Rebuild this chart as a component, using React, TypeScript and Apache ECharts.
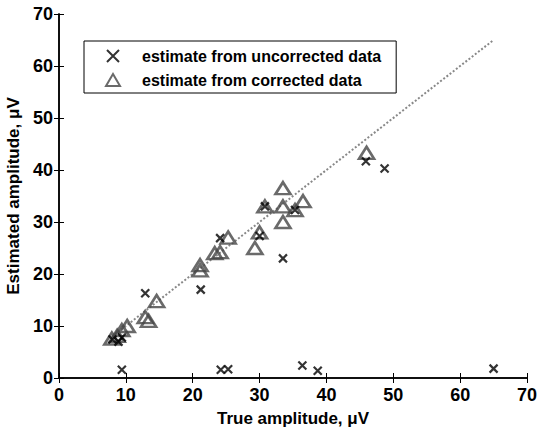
import React, { useEffect, useRef } from "react";
import * as echarts from "echarts";

const uncorrectedTrue = [8.0, 8.9, 9.4, 9.4, 12.9, 21.2, 24.1, 24.2, 25.3, 30.0, 30.8, 33.5, 35.3, 36.4, 38.7, 45.9, 48.7, 65.0];
const uncorrectedEst = [7.4, 7.0, 7.8, 1.6, 16.3, 17.0, 26.9, 1.6, 1.7, 27.3, 33.0, 23.0, 32.3, 2.4, 1.4, 41.7, 40.3, 1.8];

const correctedTrue = [7.9, 8.7, 9.4, 10.2, 12.9, 13.4, 14.6, 21.1, 21.1, 23.3, 24.1, 25.3, 29.3, 30.0, 30.8, 33.5, 33.5, 33.5, 35.3, 36.5, 46.0];
const correctedEst = [7.6, 8.1, 9.2, 10.0, 11.7, 11.0, 14.8, 21.7, 20.7, 24.0, 24.2, 27.0, 25.0, 28.0, 33.0, 36.5, 33.0, 30.0, 32.3, 34.0, 43.3];

const identityLine = [7.9, 65.0];

const xTicks = [0, 10, 20, 30, 40, 50, 60, 70];
const yTicks = [0, 10, 20, 30, 40, 50, 60, 70];

const seriesNames = ["estimate from uncorrected data", "estimate from corrected data"];
const FONT = "'Liberation Sans', Arial, Helvetica, sans-serif";

export default function App() {
  const ref = useRef<HTMLDivElement>(null);
  useEffect(() => {
    if (!ref.current) return;
    const chart = echarts.init(ref.current, null, { renderer: "svg" });
    const axisLine = { show: true, lineStyle: { color: "#000", width: 1.5 } };
    const tick = { show: true, inside: true, length: 5, lineStyle: { color: "#000", width: 1 } };
    const label = { fontFamily: FONT, fontWeight: "bold" as const, fontSize: 18, color: "#000" };
    const nameStyle = { fontFamily: FONT, fontWeight: "bold" as const, fontSize: 17, color: "#000" };
    const base = { min: xTicks[0], max: xTicks[xTicks.length - 1], interval: 10, splitLine: { show: false } };
    chart.setOption({
      animation: false,
      backgroundColor: "#fff",
      grid: { left: 59, top: 14, right: 11, bottom: 51, containLabel: false, outerBoundsMode: "none" },
      xAxis: [
        {
          type: "value", ...base, position: "bottom",
          axisLine, axisTick: tick, axisLabel: { ...label, margin: 8 },
          name: "True amplitude, μV", nameLocation: "middle", nameGap: 32,
          nameTextStyle: nameStyle,
        },
        { type: "value", ...base, position: "top", axisLine, axisTick: tick, axisLabel: { show: false } },
      ],
      yAxis: [
        {
          type: "value", min: yTicks[0], max: yTicks[yTicks.length - 1], interval: 10, splitLine: { show: false },
          position: "left", axisLine, axisTick: tick, axisLabel: { ...label, margin: 6 },
          name: "Estimated amplitude, μV", nameLocation: "middle", nameGap: 33,
          nameTextStyle: nameStyle,
        },
        {
          type: "value", min: yTicks[0], max: yTicks[yTicks.length - 1], interval: 10, splitLine: { show: false },
          position: "right", axisLine, axisTick: tick, axisLabel: { show: false },
        },
      ],
      legend: {
        left: 84, top: 41, orient: "vertical",
        data: seriesNames,
        borderColor: "#000", borderWidth: 1, borderRadius: 0,
        padding: [7, 15, 5, 21],
        itemGap: 8,
        itemWidth: 14, itemHeight: 12,
        textStyle: { fontFamily: FONT, fontWeight: "bold", fontSize: 16, color: "#000", padding: [0, 0, 0, 17] },
      },
      series: [
        {
          name: "identity", type: "line", data: identityLine.map((v) => [v, v]),
          showSymbol: false, symbol: "none",
          lineStyle: { color: "#888", width: 2, type: [2, 2] }, z: 1, silent: true,
        },
        {
          name: seriesNames[1], type: "scatter", symbol: "triangle", symbolSize: [15, 12],
          data: correctedTrue.map((x, i) => [x, correctedEst[i]]),
          itemStyle: { color: "rgba(0,0,0,0)", borderColor: "#454545", borderWidth: 2.6 }, z: 2,
        },
        {
          name: seriesNames[0], type: "scatter", symbol: "path://M0,0L10,10M10,0L0,10", symbolSize: 8,
          data: uncorrectedTrue.map((x, i) => [x, uncorrectedEst[i]]),
          itemStyle: { color: "rgba(0,0,0,0)", borderColor: "#000", borderWidth: 2.2 }, z: 3,
        },
      ],
    });
    return () => chart.dispose();
  }, []);
  return <div ref={ref} style={{ width: 538, height: 429, position: "absolute", left: 0, top: 0 }} />;
}
